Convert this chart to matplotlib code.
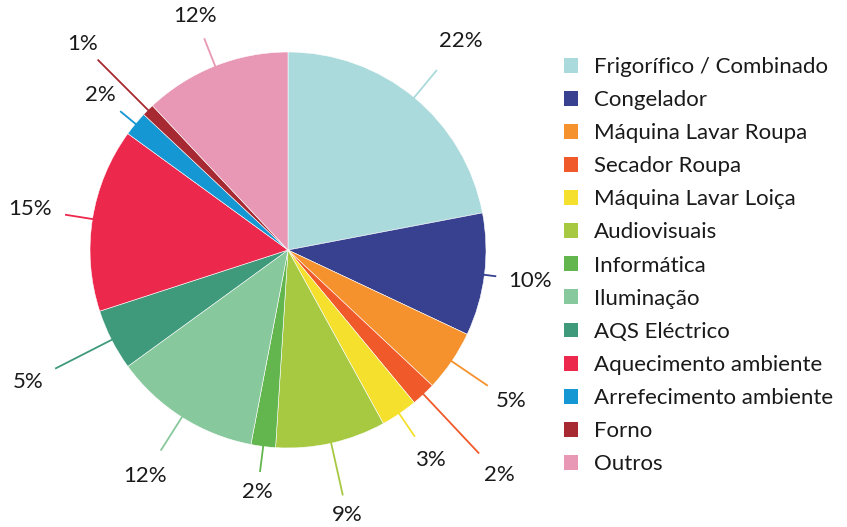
import numpy as np
import matplotlib
matplotlib.use("Agg")
import matplotlib.pyplot as plt
from matplotlib.patches import Patch

plt.rcParams['font.family'] = ['Lato', 'DejaVu Sans']

categories = ['Frigorífico / Combinado', 'Congelador', 'Máquina Lavar Roupa',
              'Secador Roupa', 'Máquina Lavar Loiça', 'Audiovisuais',
              'Informática', 'Iluminação', 'AQS Eléctrico',
              'Aquecimento ambiente', 'Arrefecimento ambiente', 'Forno', 'Outros']
values = [22, 10, 5, 2, 3, 9, 2, 12, 5, 15, 2, 1, 12]
colors = ['#abdadc', '#37418f', '#f6922d', '#f05a2a', '#f4e02d', '#a7c942',
          '#62b64d', '#88c89d', '#3f9a7b', '#ec284d', '#1497d3', '#a72a32',
          '#e897b4']

# leader line end radius and label radius (pie radius = 1)
line_r = [1.18, 1.06, 1.22, 1.41, 1.14, 1.27, 1.13, 1.20, 1.32, 1.14, 1.10, 1.36, 1.15]
text_r = [1.37, 1.23, 1.36, 1.56, 1.28, 1.37, 1.23, 1.35, 1.47, 1.32, 1.23, 1.47, 1.27]

W, H = 847, 527
fig = plt.figure(figsize=(W / 100, H / 100), dpi=100)
cx, cy, R = 288, 250, 198
ax = fig.add_axes([(cx - R) / W, (H - cy - R) / H, 2 * R / W, 2 * R / H])

wedges, _ = ax.pie(values, colors=colors, startangle=90, counterclock=False,
                   radius=1, wedgeprops=dict(edgecolor='white', linewidth=0.4))
ax.set_xlim(-1, 1)
ax.set_ylim(-1, 1)
ax.set_aspect('equal')
ax.axis('off')

for w, v, c, lr, tr in zip(wedges, values, colors, line_r, text_r):
    ang = np.deg2rad((w.theta1 + w.theta2) / 2)
    ca, sa = np.cos(ang), np.sin(ang)
    ax.plot([ca * 0.99, ca * lr], [sa * 0.99, sa * lr], color=c, lw=1.3,
            clip_on=False, solid_capstyle='butt')
    ax.text(ca * tr, sa * tr, f'{v}%', ha='center', va='center',
            fontsize=16, color='#1a1a1a', clip_on=False)

handles = [Patch(facecolor=c, edgecolor='none') for c in colors]
fig.legend(handles, categories, loc='upper left',
           bbox_to_anchor=(555 / W, 1 - 48 / H), frameon=False,
           fontsize=16, handlelength=0.65, handleheight=0.65,
           handletextpad=0.7, labelspacing=0.59, borderaxespad=0,
           labelcolor='#1a1a1a')

fig.savefig('out.png', dpi=100)
